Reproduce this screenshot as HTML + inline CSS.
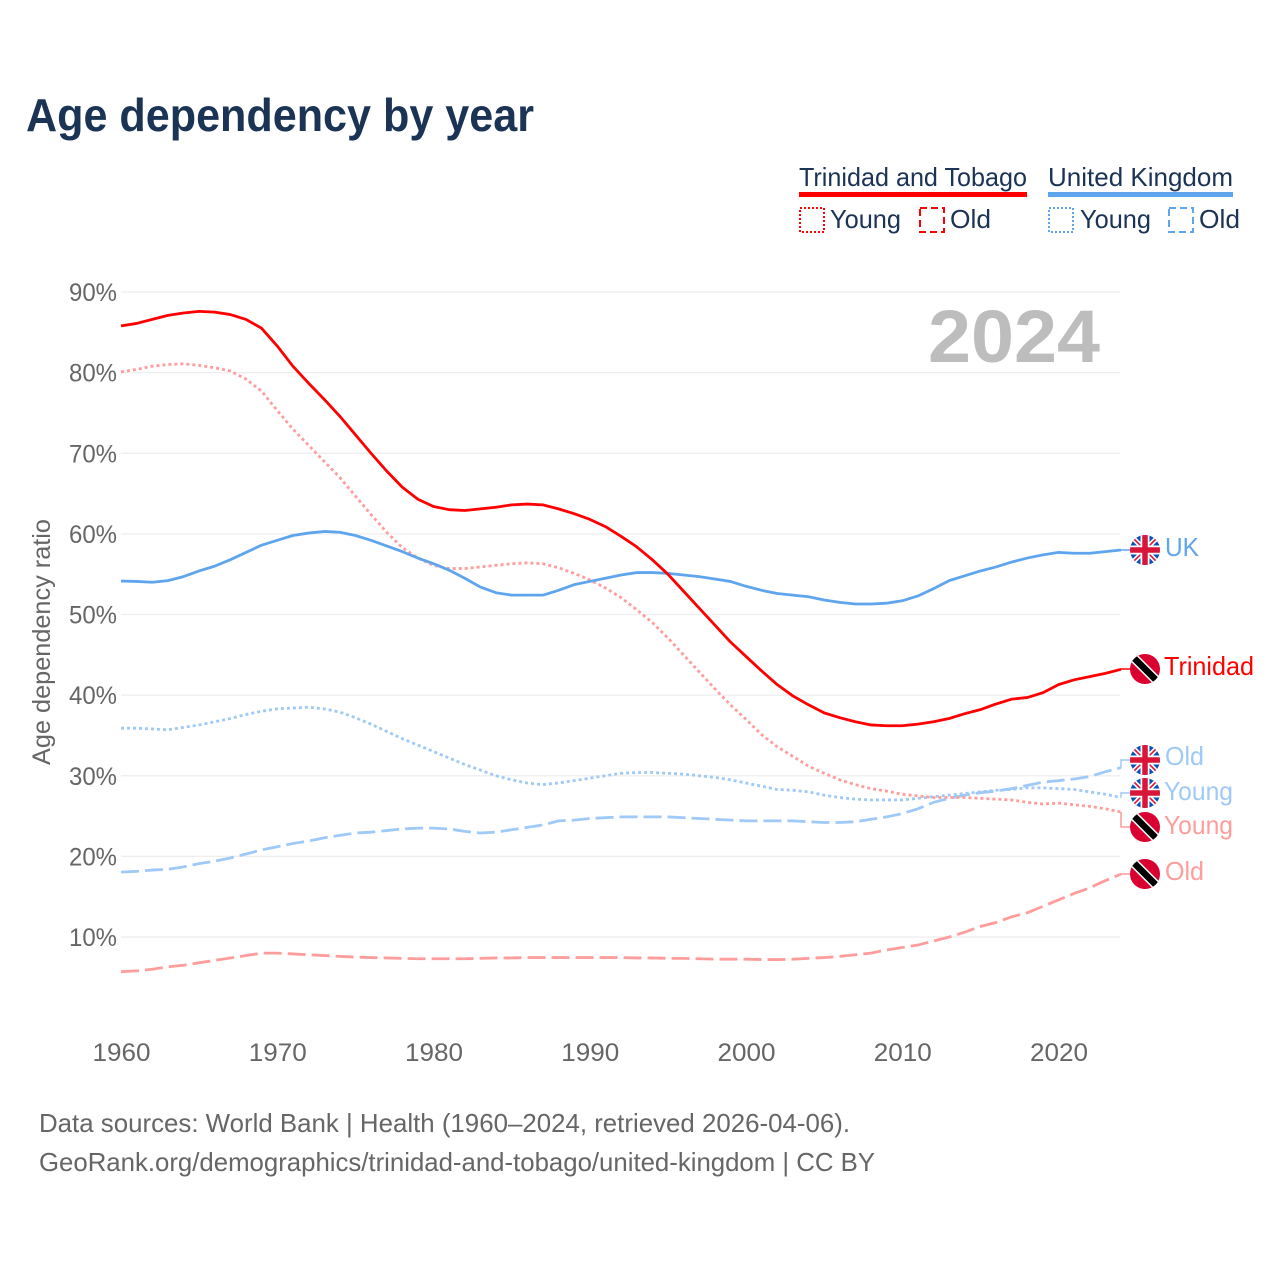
<!DOCTYPE html>
<html lang="en">
<head>
<meta charset="utf-8">
<title>Age dependency by year</title>
<style>
html,body{margin:0;padding:0;background:#fff;}
svg{display:block;font-family:"Liberation Sans",Arial,sans-serif;}
</style>
</head>
<body>
<svg id="chart" width="1280" height="1280" viewBox="0 0 1280 1280" xmlns="http://www.w3.org/2000/svg">
<defs>
<clipPath id="flag-clip"><circle cx="0" cy="0" r="15"/></clipPath>
<symbol id="flag-uk" viewBox="-15 -15 30 30" overflow="visible">
<g clip-path="url(#flag-clip)">
<rect x="-15" y="-15" width="30" height="30" fill="#0a4fb3"/>
<path d="M-15-15L15 15M15-15L-15 15" stroke="#fff" stroke-width="5"/>
<path d="M-15-15L15 15M15-15L-15 15" stroke="#d9153a" stroke-width="1.6"/>
<path d="M0-15V15M-15 0H15" stroke="#fff" stroke-width="9"/>
<path d="M0-15V15M-15 0H15" stroke="#d9153a" stroke-width="5.5"/>
</g>
</symbol>
<symbol id="flag-tt" viewBox="-15 -15 30 30" overflow="visible">
<g clip-path="url(#flag-clip)">
<rect x="-15" y="-15" width="30" height="30" fill="#da0030"/>
<path d="M-15-15L15 15" stroke="#fff" stroke-width="9.5"/>
<path d="M-15-15L15 15" stroke="#000" stroke-width="6.5"/>
</g>
</symbol>
</defs>
<rect width="1280" height="1280" fill="#fff"/>
<text x="26" y="131" font-size="46" font-weight="700" fill="#1b3354" textLength="508" lengthAdjust="spacingAndGlyphs">Age dependency by year</text>

<g font-size="26" fill="#1b3354">
<text x="799" y="186" textLength="228" lengthAdjust="spacingAndGlyphs">Trinidad and Tobago</text>
<rect x="799" y="192" width="228" height="5" fill="#ff0000"/>
<rect x="800" y="208" width="24" height="24" fill="none" stroke="#ff0000" stroke-width="2" stroke-dasharray="2 2"/>
<text x="830" y="228" textLength="71" lengthAdjust="spacingAndGlyphs">Young</text>
<rect x="920" y="208" width="24" height="24" fill="none" stroke="#ff0000" stroke-width="2" stroke-dasharray="7 4"/>
<text x="950" y="228" textLength="41" lengthAdjust="spacingAndGlyphs">Old</text>
<text x="1048" y="186" textLength="185" lengthAdjust="spacingAndGlyphs">United Kingdom</text>
<rect x="1048" y="192" width="185" height="5" fill="#5fa5ee"/>
<rect x="1049" y="208" width="24" height="24" fill="none" stroke="#5fa5ee" stroke-width="2" stroke-dasharray="2 2"/>
<text x="1080" y="228" textLength="71" lengthAdjust="spacingAndGlyphs">Young</text>
<rect x="1169" y="208" width="24" height="24" fill="none" stroke="#5fa5ee" stroke-width="2" stroke-dasharray="7 4"/>
<text x="1199" y="228" textLength="41" lengthAdjust="spacingAndGlyphs">Old</text>
</g>

<g id="grid"></g>
<g id="y-ticks"></g>
<g id="x-ticks"></g>
<text x="928" y="362" font-size="74" font-weight="700" fill="#bdbdbd" textLength="172" lengthAdjust="spacingAndGlyphs">2024</text>
<text transform="translate(50,765) rotate(-90)" font-size="25" fill="#666" textLength="246" lengthAdjust="spacingAndGlyphs">Age dependency ratio</text>
<g id="series"></g>

<g font-size="26">
<use href="#flag-uk" x="1130" y="535" width="30" height="30"/>
<text x="1165" y="556" fill="#5fa5ee" textLength="34" lengthAdjust="spacingAndGlyphs">UK</text>
<use href="#flag-tt" x="1130" y="654" width="30" height="30"/>
<text x="1164" y="675" fill="#ff0000" textLength="90" lengthAdjust="spacingAndGlyphs">Trinidad</text>
<use href="#flag-uk" x="1130" y="745" width="30" height="30"/>
<text x="1165" y="765" fill="#9fc9f6" textLength="39" lengthAdjust="spacingAndGlyphs">Old</text>
<use href="#flag-uk" x="1130" y="778" width="30" height="30"/>
<text x="1164" y="800" fill="#9fc9f6" textLength="69" lengthAdjust="spacingAndGlyphs">Young</text>
<use href="#flag-tt" x="1130" y="812" width="30" height="30"/>
<text x="1164" y="834" fill="#ff9c9c" textLength="69" lengthAdjust="spacingAndGlyphs">Young</text>
<use href="#flag-tt" x="1130" y="859" width="30" height="30"/>
<text x="1165" y="880" fill="#ff9c9c" textLength="39" lengthAdjust="spacingAndGlyphs">Old</text>
</g>

<g font-size="26" fill="#666">
<text x="39" y="1132" textLength="811" lengthAdjust="spacingAndGlyphs">Data sources: World Bank | Health (1960–2024, retrieved 2026-04-06).</text>
<text x="39" y="1171" textLength="836" lengthAdjust="spacingAndGlyphs">GeoRank.org/demographics/trinidad-and-tobago/united-kingdom | CC BY</text>
</g>
</svg>
<script>
const startYear = 1960;
const xTickYears = [1960, 1970, 1980, 1990, 2000, 2010, 2020];
const yTickValues = [10, 20, 30, 40, 50, 60, 70, 80, 90];
const ttTotal = [85.8,86.1,86.6,87.1,87.4,87.6,87.5,87.2,86.6,85.5,83.3,80.8,78.7,76.7,74.6,72.3,70.0,67.8,65.8,64.3,63.4,63.0,62.9,63.1,63.3,63.6,63.7,63.6,63.1,62.5,61.8,60.9,59.7,58.4,56.8,55.0,52.9,50.8,48.7,46.6,44.8,43.0,41.3,39.9,38.8,37.8,37.2,36.7,36.3,36.2,36.2,36.4,36.7,37.1,37.7,38.2,38.9,39.5,39.7,40.3,41.3,41.9,42.3,42.7,43.2];
const ttYoung = [80.1,80.4,80.8,81.0,81.1,80.9,80.6,80.2,79.2,77.7,75.3,73.0,71.0,69.0,67.0,64.7,62.4,60.2,58.3,57.0,56.1,55.7,55.7,55.9,56.1,56.3,56.4,56.3,55.8,55.1,54.3,53.3,52.1,50.6,49.0,47.1,45.0,42.9,40.8,38.8,37.0,35.1,33.6,32.4,31.2,30.3,29.5,28.9,28.4,28.1,27.7,27.5,27.3,27.3,27.3,27.2,27.1,27.0,26.7,26.5,26.6,26.4,26.2,25.9,25.5];
const ttOld = [5.7,5.8,6.0,6.3,6.5,6.8,7.1,7.4,7.7,8.0,8.0,7.9,7.8,7.7,7.6,7.5,7.45,7.4,7.35,7.3,7.3,7.3,7.3,7.35,7.4,7.4,7.45,7.45,7.45,7.45,7.45,7.45,7.45,7.4,7.4,7.35,7.35,7.3,7.25,7.25,7.25,7.2,7.2,7.25,7.35,7.45,7.6,7.8,8.0,8.4,8.7,9.0,9.5,10.0,10.6,11.3,11.8,12.5,13.0,13.8,14.6,15.4,16.1,17.0,17.8];
const ukTotal = [54.15,54.1,54.0,54.2,54.7,55.4,56.0,56.8,57.7,58.6,59.2,59.8,60.1,60.3,60.2,59.8,59.2,58.5,57.8,57.0,56.3,55.5,54.5,53.4,52.7,52.4,52.4,52.4,53.0,53.7,54.1,54.5,54.9,55.2,55.2,55.1,54.9,54.7,54.4,54.1,53.5,53.0,52.6,52.4,52.2,51.8,51.5,51.3,51.3,51.4,51.7,52.3,53.2,54.2,54.8,55.4,55.9,56.5,57.0,57.4,57.7,57.6,57.6,57.8,58.0];
const ukYoung = [35.9,35.9,35.8,35.7,36.0,36.3,36.7,37.1,37.6,38.0,38.3,38.4,38.5,38.3,37.9,37.2,36.4,35.5,34.6,33.8,33.0,32.2,31.4,30.7,30.0,29.5,29.1,28.9,29.1,29.4,29.7,30.0,30.3,30.4,30.4,30.3,30.2,30.0,29.8,29.5,29.1,28.7,28.3,28.2,28.0,27.6,27.3,27.1,27.0,27.0,27.0,27.2,27.4,27.6,27.8,28.0,28.2,28.3,28.5,28.5,28.4,28.3,28.0,27.7,27.3];
const ukOld = [18.05,18.15,18.3,18.4,18.7,19.1,19.4,19.8,20.3,20.8,21.2,21.6,21.9,22.3,22.6,22.9,23.0,23.2,23.4,23.5,23.5,23.4,23.1,22.9,23.0,23.3,23.6,23.9,24.4,24.5,24.7,24.8,24.9,24.9,24.9,24.9,24.8,24.7,24.6,24.5,24.4,24.4,24.4,24.4,24.3,24.2,24.2,24.3,24.6,24.9,25.3,25.9,26.7,27.2,27.6,27.9,28.1,28.4,28.8,29.2,29.4,29.6,29.9,30.5,31.0];

const NS = 'http://www.w3.org/2000/svg';
function xScale(year) { return 121 + (year - 1960) * 15.625; }
function yScale(value) { return 292 + (90 - value) * 8.0625; }
function mk(parent, tag) {
  const el = document.createElementNS(NS, tag);
  parent.appendChild(el);
  return el;
}
const grid = document.getElementById('grid');
const yTicks = document.getElementById('y-ticks');
const xTicks = document.getElementById('x-ticks');
const seriesLayer = document.getElementById('series');

yTickValues.forEach(function (v) {
  const line = mk(grid, 'line');
  
  
  line.setAttribute('x1', 121);
  line.setAttribute('x2', 1120);
  line.setAttribute('y1', yScale(v));
  line.setAttribute('y2', yScale(v));
  line.setAttribute('stroke', '#eeeeee');
  line.setAttribute('stroke-width', 1.3);
  const t = mk(yTicks, 'text');
  
  
  t.setAttribute('x', 117);
  t.setAttribute('y', yScale(v) + 9);
  t.setAttribute('text-anchor', 'end');
  t.setAttribute('font-size', 25);
  t.setAttribute('fill', '#666');
  t.setAttribute('textLength', 48);
  t.setAttribute('lengthAdjust', 'spacingAndGlyphs');
  t.textContent = v + '%';
});
xTickYears.forEach(function (y) {
  const t = mk(xTicks, 'text');
  
  
  t.setAttribute('x', xScale(y) + 0.5);
  t.setAttribute('y', 1061);
  t.setAttribute('text-anchor', 'middle');
  t.setAttribute('font-size', 25);
  t.setAttribute('fill', '#666');
  t.setAttribute('textLength', 58);
  t.setAttribute('lengthAdjust', 'spacingAndGlyphs');
  t.textContent = y;
});

function drawSeries(name, values, color, dash, markerY) {
  let d = '';
  values.forEach(function (v, i) {
    d += (i ? 'L' : 'M') + xScale(startYear + i).toFixed(2) + ' ' + yScale(v).toFixed(2);
  });
  const path = mk(seriesLayer, 'path');
  
  
  path.setAttribute('d', d);
  path.setAttribute('fill', 'none');
  path.setAttribute('stroke', color);
  path.setAttribute('stroke-width', 2.8);
  path.setAttribute('stroke-linejoin', 'round');
  if (dash) path.setAttribute('stroke-dasharray', dash);
  const endX = xScale(startYear + values.length - 1);
  const endY = yScale(values[values.length - 1]);
  const link = mk(seriesLayer, 'path');
  
  
  link.setAttribute('d', 'M' + endX.toFixed(2) + ' ' + endY.toFixed(2) + 'V' + markerY + 'H1131');
  link.setAttribute('fill', 'none');
  link.setAttribute('stroke', color);
  link.setAttribute('stroke-width', 1.5);
}
drawSeries('uk-old', ukOld, '#9fc9f6', '18 6', 760);
drawSeries('uk-young', ukYoung, '#9fc9f6', '3 3', 793);
drawSeries('trinidad-old', ttOld, '#ff9c9c', '18 6', 874);
drawSeries('trinidad-young', ttYoung, '#ff9c9c', '3 3', 827);
drawSeries('uk-total', ukTotal, '#5fa5ee', '', 550);
drawSeries('trinidad-total', ttTotal, '#ff0000', '', 669);
</script>
</body>
</html>
